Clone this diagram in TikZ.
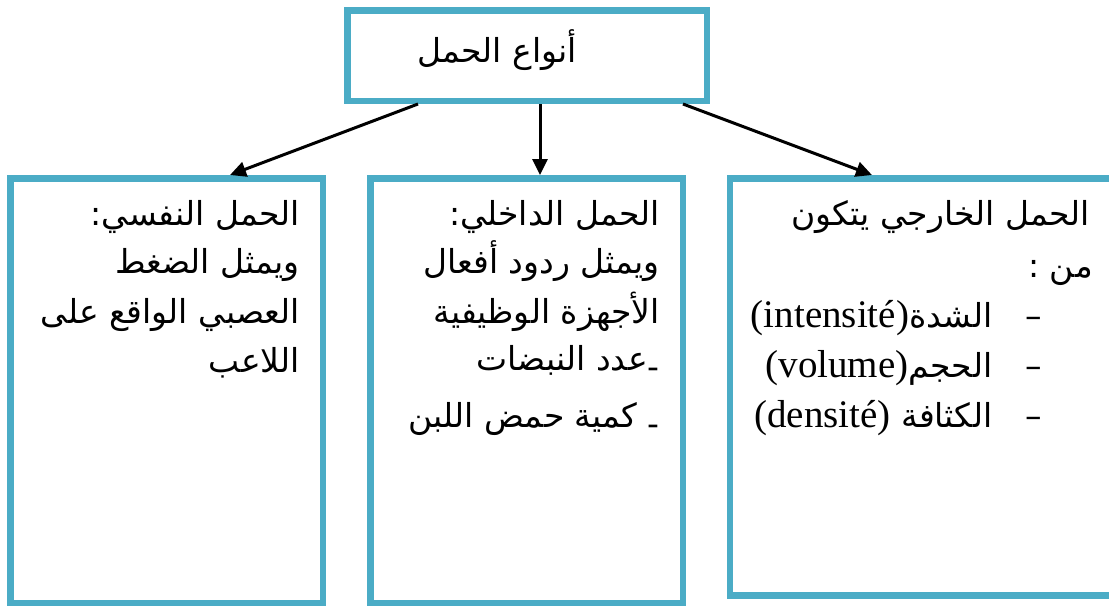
\documentclass[tikz,border=0pt]{standalone}
\usepackage{fontspec}
\usetikzlibrary{arrows.meta}
\TeXXeTstate=1
\newfontfamily\arabicfont[Script=Arabic]{DejaVu Sans}
\newfontfamily\latinfont{Liberation Serif}
\newcommand{\arline}[1]{\beginR #1\endR}
\newcommand{\latpart}[1]{\beginL{\latinfont\fontsize{39pt}{44pt}\selectfont #1}\endL}
\newcommand{\lowdash}{\raisebox{-8pt}{-}}
\definecolor{boxblue}{HTML}{4BACC6}

\tikzset{
  loadbox/.style={draw=boxblue, line width=6.5pt, rectangle, inner sep=0pt},
  artext/.style={font=\arabicfont\fontsize{33pt}{40pt}\selectfont, anchor=base east, inner sep=0pt},
  arr/.style={line width=3pt, -{Triangle[length=16pt,width=15pt]}}
}

\begin{document}
\begin{tikzpicture}[x=1pt, y=-1pt]
    \fill[white] (0,0) rectangle (1109,606);
    \useasboundingbox (0,0) rectangle (1109,606);
    \clip (0,0) rectangle (1109,606);

    % =========================================================
    % BOXES
    % =========================================================
    \node[loadbox, minimum width=359.5pt, minimum height=90.5pt] (loadtypes) at (527, 55.5) {};
    \node[loadbox, minimum width=312.5pt, minimum height=424.5pt] (psyload) at (166.5, 390.5) {};
    \node[loadbox, minimum width=312.5pt, minimum height=424.5pt] (intload) at (526.5, 390.5) {};
    \node[loadbox, minimum width=409.75pt, minimum height=417pt] (extload) at (935.1, 386.75) {};

    % Titolo
    \node[artext] (title) at (577, 62) {\arline{أنواع الحمل}};

    % =========================================================
    % PSYCHOLOGICAL LOAD
    % =========================================================
    \node[artext] (psyA) at (300, 225) {\arline{الحمل النفسي:}};
    \node[artext] (psyB) at (300, 273) {\arline{ويمثل الضغط}};
    \node[artext] (psyC) at (300, 323) {\arline{العصبي الواقع على}};
    \node[artext] (psyD) at (300, 372) {\arline{اللاعب}};

    % =========================================================
    % INTERNAL LOAD
    % =========================================================
    \node[artext] (intA) at (660, 225) {\arline{الحمل الداخلي:}};
    \node[artext] (intB) at (660, 273) {\arline{ويمثل ردود أفعال}};
    \node[artext] (intC) at (660, 323) {\arline{الأجهزة الوظيفية}};
    \node[artext] (intD) at (660, 370) {\arline{\lowdash عدد النبضات}};
    \node[artext] (intE) at (660, 427) {\arline{\lowdash{} كمية حمض اللبن}};

    % =========================================================
    % EXTERNAL LOAD
    % =========================================================
    \node[artext] (extA) at (1090, 225) {\arline{الحمل الخارجي يتكون}};
    \node[artext] (extB) at (1093, 277) {\arline{من :}};
    \node[artext] (extC) at (1042, 327) {\arline{–\hspace{33pt}الشدة\latpart{(intensité)}}};
    \node[artext] (extD) at (1042, 377) {\arline{–\hspace{33pt}الحجم\latpart{(volume)}}};
    \node[artext] (extE) at (1042, 427) {\arline{–\hspace{33pt}الكثافة \latpart{(densité)}}};

    % Frecce
    \draw[arr] ([xshift=74pt]loadtypes.south west) -- ([xshift=223pt]psyload.north west);
    \draw[arr] ([xshift=13pt]loadtypes.south) -- ([xshift=13.5pt]intload.north);
    \draw[arr] ([xshift=339pt]loadtypes.south west) -- ([xshift=145pt]extload.north west);
\end{tikzpicture}
\end{document}
